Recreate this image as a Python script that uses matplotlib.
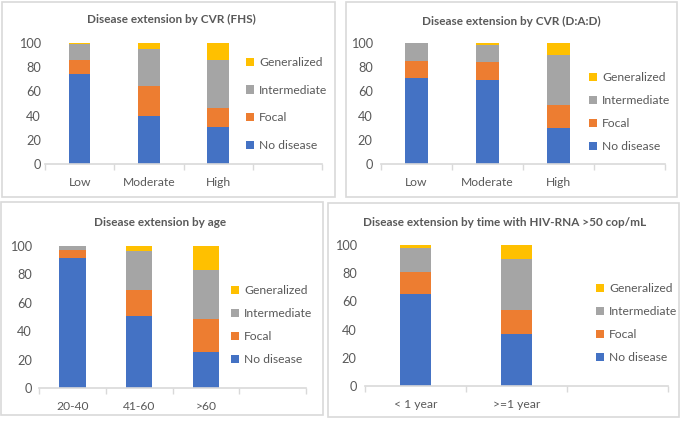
import numpy as np
import matplotlib
matplotlib.use("Agg")
import matplotlib.pyplot as plt
from matplotlib.patches import Rectangle, Patch

# =========================
# Data (percent of patients)
# =========================
series_names = ["No disease", "Focal", "Intermediate", "Generalized"]
colors = ["#4472C4", "#ED7D31", "#A5A5A5", "#FFC000"]

fhs_cats = ["Low", "Moderate", "High"]
fhs_none = [74.2, 39.7, 30.4]
fhs_focal = [12.1, 25.0, 15.9]
fhs_inter = [13.2, 30.1, 40.0]
fhs_gen = [0.5, 5.2, 13.7]

dad_cats = ["Low", "Moderate", "High"]
dad_none = [71.1, 69.4, 30.0]
dad_focal = [14.3, 15.2, 18.5]
dad_inter = [14.6, 13.5, 41.9]
dad_gen = [0.0, 1.9, 9.6]

age_cats = ["20-40", "41-60", ">60"]
age_none = [91.8, 50.8, 25.1]
age_focal = [5.4, 18.3, 23.6]
age_inter = [2.8, 27.4, 34.7]
age_gen = [0.0, 3.5, 16.6]

hiv_cats = ["< 1 year", ">=1 year"]
hiv_none = [65.3, 36.8]
hiv_focal = [15.7, 16.9]
hiv_inter = [17.1, 36.6]
hiv_gen = [1.9, 9.7]

W, H = 685, 421
txt_col = "#595959"
line_col = "#D9D9D9"
fs = 8.7
plt.rcParams["font.family"] = ["Lato", "DejaVu Sans"]

fig = plt.figure(figsize=(W / 100, H / 100), dpi=100)


def px_rect(x0, y0, x1, y1):
    # pixel box (top-left origin) -> figure fraction
    return [x0 / W, 1 - y1 / H, (x1 - x0) / W, (y1 - y0) / H]


def panel(box, axbox, title, tpos, cats, vals, nslots, width, leg_xy, leg_sp, ypad):
    bx0, by0, bx1, by1 = box
    fig.patches.append(Rectangle((bx0 / W, 1 - by1 / H), (bx1 - bx0) / W, (by1 - by0) / H,
                                 transform=fig.transFigure, fill=False,
                                 edgecolor=line_col, linewidth=1.2))
    fig.text(tpos[0] / W, 1 - tpos[1] / H, title, ha="center", va="center",
             fontsize=8.5, fontweight="bold", color=txt_col)
    ax = fig.add_axes(px_rect(*axbox))
    x = np.arange(len(cats))
    bottom = np.zeros(len(cats))
    handles = []
    for name, v, c in zip(series_names, vals, colors):
        ax.bar(x, v, width, bottom=bottom, color=c, label=name)
        bottom += np.array(v)
        handles.append(Patch(facecolor=c, label=name))
    ax.set_xlim(-0.5, nslots - 0.5)
    ax.set_ylim(0, 100)
    ax.set_yticks(range(0, 101, 20))
    ax.set_xticks(x)
    ax.set_xticklabels(cats)
    ax.set_xticks(np.arange(nslots + 1) - 0.5, minor=True)
    ax.tick_params(axis="x", which="major", length=0, pad=9, labelsize=fs, labelcolor=txt_col)
    ax.tick_params(axis="x", which="minor", length=4, color=line_col, width=1)
    ax.tick_params(axis="y", length=0, pad=ypad, labelsize=fs + 0.5, labelcolor=txt_col)
    for s in ["top", "right", "left"]:
        ax.spines[s].set_visible(False)
    ax.spines["bottom"].set_color(line_col)
    ax.spines["bottom"].set_linewidth(1.2)
    ax.legend(handles[::-1], series_names[::-1], loc="upper left",
              bbox_to_anchor=(leg_xy[0] / W, 1 - leg_xy[1] / H),
              bbox_transform=fig.transFigure, frameon=False, fontsize=fs,
              labelcolor=txt_col, handlelength=0.7, handleheight=0.7,
              handletextpad=0.4, labelspacing=leg_sp, borderpad=0, borderaxespad=0)
    return ax


panel((2, 2, 335, 197), (45, 43, 322, 164), "Disease extension by CVR (FHS)", (171, 19),
      fhs_cats, [fhs_none, fhs_focal, fhs_inter, fhs_gen], 4, 0.31, (246, 57), 1.38, 3)
panel((346, 2, 677, 197), (381, 43, 665, 164), "Disease extension by CVR (D:A:D)", (511, 21),
      dad_cats, [dad_none, dad_focal, dad_inter, dad_gen], 4, 0.32, (589, 72), 1.0, 6)
panel((1, 202, 323, 415), (39, 246, 306, 388), "Disease extension by age", (160, 222),
      age_cats, [age_none, age_focal, age_inter, age_gen], 4, 0.4, (231, 285), 1.0, 5)
panel((328, 203, 679, 417), (365, 245, 668, 386), "Disease extension by time with HIV-RNA >50 cop/mL", (505, 222),
      hiv_cats, [hiv_none, hiv_focal, hiv_inter, hiv_gen], 3, 0.31, (596, 283), 1.0, 6)

fig.savefig("out.png", dpi=100)
